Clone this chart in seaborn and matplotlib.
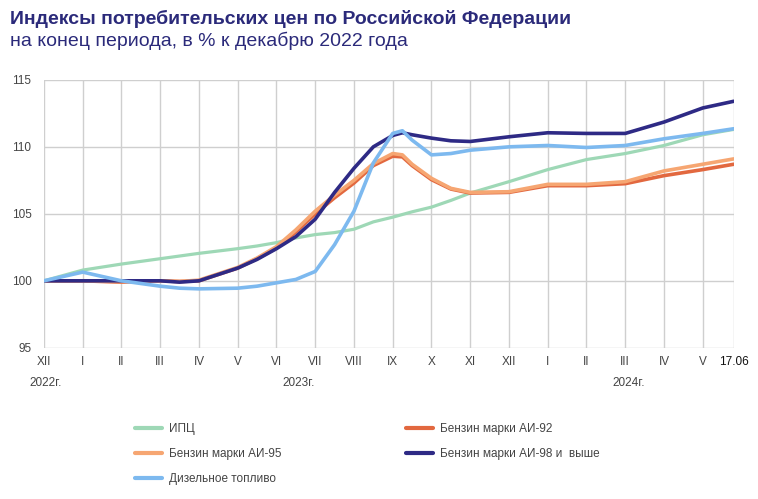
import numpy as np
import pandas as pd
import matplotlib
matplotlib.use("Agg")
import matplotlib.pyplot as plt
import seaborn as sns
from matplotlib.lines import Line2D

# --- values (month index from Dec 2022, 17.8 = 17.06)
months = [0, 1, 2, 3, 3.5, 4, 5, 5.5, 6, 6.5, 7, 7.5, 8, 8.5, 9, 9.25, 9.5,
          10, 10.5, 11, 12, 13, 14, 15, 16, 17, 17.8]

cpi = [100, 100.8, 101.25, 101.65, 101.85, 102.05, 102.4, 102.6, 102.85, 103.2,
       103.45, 103.6, 103.85, 104.4, 104.75, 104.95, 105.15, 105.5, 106.0, 106.55,
       107.4, 108.3, 109.05, 109.5, 110.1, 110.9, 111.3]
ai92 = [100, 100, 99.9, 100, 99.95, 100.0, 100.95, 101.65, 102.45, 103.65,
        105.0, 106.2, 107.3, 108.6, 109.3, 109.25, 108.6, 107.55, 106.85, 106.55,
        106.6, 107.1, 107.1, 107.25, 107.85, 108.3, 108.7]
ai95 = [100, 100, 99.95, 100, 99.95, 100.05, 101.0, 101.7, 102.55, 103.8,
        105.2, 106.4, 107.5, 108.75, 109.5, 109.4, 108.7, 107.65, 106.9, 106.6,
        106.65, 107.2, 107.2, 107.4, 108.2, 108.7, 109.1]
ai98 = [100, 100, 100, 100, 99.9, 100.0, 100.95, 101.6, 102.4, 103.3,
        104.6, 106.6, 108.4, 110.0, 110.85, 111.05, 110.9, 110.65, 110.45, 110.4,
        110.75, 111.05, 111.0, 111.0, 111.85, 112.9, 113.4]
diesel = [100, 100.65, 100.0, 99.6, 99.45, 99.4, 99.45, 99.6, 99.85, 100.1,
          100.7, 102.7, 105.2, 108.8, 111.0, 111.2, 110.5, 109.4, 109.5, 109.75,
          110.0, 110.1, 109.95, 110.1, 110.6, 111.0, 111.35]

tick_pos = list(range(18)) + [17.8]
tick_labels = ["XII", "I", "II", "III", "IV", "V", "VI", "VII", "VIII", "IX",
               "X", "XI", "XII", "I", "II", "III", "IV", "V", "17.06"]
year_labels = ["2022г.", "2023г.", "2024г."]
year_pos = [0.05, 6.57, 15.08]

names = ["ИПЦ", "Бензин марки АИ-92", "Бензин марки АИ-95",
         "Бензин марки АИ-98 и  выше", "Дизельное топливо"]
colors = {"ИПЦ": "#9ed8b6",
          "Бензин марки АИ-92": "#e2683f",
          "Бензин марки АИ-95": "#f6a672",
          "Бензин марки АИ-98 и  выше": "#2e2a85",
          "Дизельное топливо": "#7db9ef"}
widths = {"ИПЦ": 2.3, "Бензин марки АИ-92": 2.6, "Бензин марки АИ-95": 2.6,
          "Бензин марки АИ-98 и  выше": 2.6, "Дизельное топливо": 2.6}

df = pd.concat([
    pd.DataFrame({"month": months, "value": vals, "series": n})
    for n, vals in zip(names, [cpi, ai92, ai95, ai98, diesel])
])

sns.set_style("white")
plt.rcParams["font.family"] = ["Liberation Sans", "DejaVu Sans"]

fig = plt.figure(figsize=(7.58, 4.99), dpi=100)
ax = fig.add_axes([0.058, 0.303, 0.910, 0.537])

for n in names:
    sns.lineplot(data=df[df["series"] == n], x="month", y="value",
                 color=colors[n], linewidth=widths[n], ax=ax,
                 solid_capstyle="round", legend=False)

ax.set_xlim(0, 17.8)
ax.set_ylim(95, 115)
ax.set_yticks([95, 100, 105, 110, 115])
ax.set_xticks(tick_pos)
ax.set_xticklabels(tick_labels)
ax.grid(True, color="#cfcfcf", linewidth=1.0)
ax.set_axisbelow(True)
for s in ax.spines.values():
    s.set_visible(False)
ax.tick_params(axis="both", length=0, labelsize=8.5, colors="#444444")
ax.tick_params(axis="x", pad=6)
ax.tick_params(axis="y", pad=9)
ax.get_xticklabels()[-1].set_color("#111111")
ax.set_xlabel("")
ax.set_ylabel("")

for lab, xp in zip(year_labels, year_pos):
    ax.text(xp, -0.13, lab, transform=ax.get_xaxis_transform(),
            ha="center", va="center", fontsize=8.5, color="#444444")

fig.text(0.013, 0.962, "Индексы потребительских цен по Российской Федерации",
         fontsize=14, fontweight="bold", color="#2b2a7a", va="center")
fig.text(0.013, 0.918, "на конец периода, в % к декабрю 2022 года",
         fontsize=14, color="#2b2a7a", va="center")

def handle(n):
    return Line2D([], [], color=colors[n], linewidth=3, solid_capstyle="round")

left = ["ИПЦ", "Бензин марки АИ-95", "Дизельное топливо"]
right = ["Бензин марки АИ-92", "Бензин марки АИ-98 и  выше"]
for group, xa in [(left, 0.178), (right, 0.535)]:
    fig.legend([handle(n) for n in group], group, loc="upper left",
               bbox_to_anchor=(xa, 0.152), frameon=False, fontsize=8.5,
               handlelength=2.3, labelspacing=1.1, handletextpad=0.6,
               labelcolor="#444444", borderaxespad=0, borderpad=0)

fig.savefig("out.png", dpi=100)
